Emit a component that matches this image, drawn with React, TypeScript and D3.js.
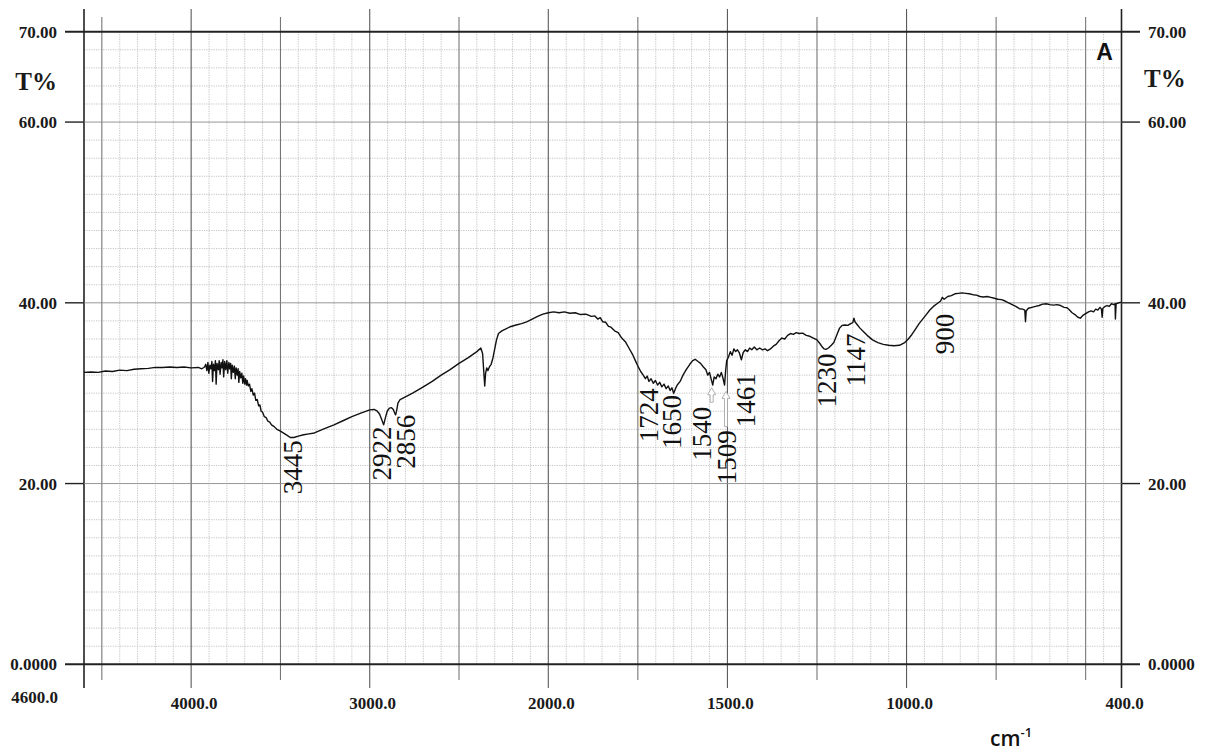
import React, { useEffect, useRef } from 'react';
import * as d3 from 'd3';

const W = 1211;
const H = 754;

// transmittance, 4600 - 2000 cm-1 (compressed half of the chart)
const bandHigh: [number, number][] = [
  [4600, 32.3], [4560, 32.35], [4520, 32.3], [4480, 32.45], [4440, 32.4], [4400, 32.55], [4360, 32.5],
  [4320, 32.65], [4280, 32.7], [4240, 32.75], [4200, 32.85], [4160, 32.85], [4120, 32.9], [4080, 32.85],
  [4040, 32.9], [4000, 32.8], [3960, 32.85], [3940, 32.7], [3925, 32.9],
  [3918, 33.2], [3912, 32.5], [3906, 33.4], [3901, 32.2], [3895, 33.1], [3889, 32.7], [3884, 33.5],
  [3880, 31.3], [3875, 33.2], [3869, 32.5], [3864, 33.6], [3860, 31.0], [3855, 33.3], [3848, 32.6],
  [3843, 33.6], [3838, 32.1], [3832, 33.4], [3827, 32.8], [3822, 33.7], [3818, 31.8], [3812, 33.5],
  [3806, 32.6], [3800, 33.6], [3795, 32.2], [3789, 33.4], [3784, 32.7], [3779, 33.3], [3775, 31.6],
  [3770, 33.1], [3764, 32.3], [3758, 33.0], [3753, 31.6], [3748, 32.8], [3742, 32.0], [3737, 32.7],
  [3733, 31.2], [3728, 32.4], [3722, 31.7], [3716, 32.2], [3711, 31.1], [3706, 31.9], [3700, 31.0],
  [3695, 31.6], [3690, 30.9], [3686, 31.4],
  [3680, 30.8], [3673, 31.0], [3666, 30.2], [3660, 30.5], [3652, 29.8], [3645, 30.0], [3638, 29.2],
  [3630, 29.3], [3622, 28.6], [3615, 28.7], [3608, 28.0], [3600, 27.9], [3590, 27.4], [3580, 27.3],
  [3570, 26.9], [3560, 26.8], [3550, 26.5], [3535, 26.3], [3520, 26.0], [3500, 25.8], [3480, 25.55],
  [3460, 25.3], [3445, 25.1], [3425, 25.1], [3400, 25.25], [3370, 25.4], [3340, 25.5], [3310, 25.6],
  [3280, 25.85], [3250, 26.1], [3200, 26.5], [3150, 26.95], [3100, 27.4], [3050, 27.8], [3000, 28.15],
  [2975, 28.2], [2960, 28.05], [2945, 27.7], [2933, 27.1], [2922, 26.5], [2912, 27.3], [2902, 28.0],
  [2890, 28.35], [2878, 28.4], [2868, 28.2], [2860, 27.8], [2855, 27.6], [2849, 28.1], [2842, 28.9],
  [2830, 29.3], [2800, 29.6], [2760, 30.0], [2700, 30.7], [2650, 31.3], [2600, 32.0], [2550, 32.6],
  [2500, 33.3], [2450, 33.9], [2400, 34.6], [2378, 35.0], [2368, 34.4], [2362, 32.6], [2356, 30.8],
  [2351, 32.2], [2345, 32.8], [2338, 32.5], [2330, 32.9], [2320, 33.2], [2310, 33.9], [2300, 34.9],
  [2290, 35.9], [2279, 36.6], [2260, 36.9], [2240, 37.1], [2214, 37.35], [2180, 37.55], [2150, 37.7],
  [2121, 37.9], [2090, 38.2], [2060, 38.5], [2030, 38.75], [2000, 38.9],
];

// transmittance, 2000 - 400 cm-1
const bandLow: [number, number][] = [
  [2000, 38.9], [1985, 39.0], [1970, 38.9], [1955, 39.0], [1940, 38.85], [1925, 38.9], [1910, 38.7],
  [1895, 38.75], [1880, 38.5], [1870, 38.55], [1862, 38.2], [1855, 38.35], [1848, 37.9], [1840, 37.85],
  [1832, 37.4], [1825, 37.3], [1815, 36.9], [1805, 36.7], [1795, 36.1], [1785, 35.7], [1775, 35.0],
  [1765, 34.3], [1757, 33.6], [1750, 33.0], [1742, 32.4], [1735, 32.0], [1729, 31.6], [1724, 31.9],
  [1719, 31.3], [1713, 31.6], [1707, 31.1], [1701, 31.4], [1695, 30.9], [1689, 31.2], [1683, 30.7],
  [1677, 31.0], [1671, 30.5], [1665, 30.8], [1660, 30.3], [1655, 30.6], [1650, 30.0], [1645, 30.5],
  [1640, 30.9], [1632, 31.3], [1624, 32.0], [1615, 32.6], [1605, 33.2], [1597, 33.6], [1590, 33.75],
  [1582, 33.5], [1575, 33.3], [1567, 32.9], [1560, 32.6], [1555, 32.0], [1550, 32.3], [1545, 31.5],
  [1541, 30.9], [1537, 31.8], [1532, 31.6], [1527, 32.1], [1522, 31.8], [1517, 32.3], [1512, 31.6],
  [1508, 30.9], [1505, 32.5], [1502, 33.6], [1497, 34.0], [1492, 34.6], [1487, 34.2], [1482, 34.9],
  [1477, 34.6], [1472, 34.8], [1467, 34.5], [1461, 33.7], [1456, 34.5], [1450, 34.8], [1444, 34.6],
  [1438, 35.0], [1432, 34.8], [1425, 35.1], [1418, 34.8], [1410, 35.0], [1402, 34.8], [1395, 34.9],
  [1388, 34.7], [1380, 34.9], [1372, 35.2], [1364, 35.4], [1356, 35.8], [1348, 36.1], [1340, 36.0],
  [1332, 36.4], [1324, 36.6], [1316, 36.5], [1308, 36.7], [1300, 36.6], [1290, 36.65], [1280, 36.4],
  [1270, 36.3], [1260, 36.1], [1250, 35.9], [1242, 35.5], [1235, 35.1], [1230, 34.9], [1225, 34.85],
  [1218, 35.0], [1210, 35.3], [1203, 35.6], [1195, 36.4], [1187, 37.2], [1180, 37.5], [1172, 37.55],
  [1164, 37.5], [1156, 37.7], [1150, 37.8], [1147, 38.3], [1144, 37.9], [1138, 37.6], [1130, 37.2],
  [1120, 36.8], [1110, 36.4], [1095, 35.9], [1080, 35.6], [1065, 35.4], [1050, 35.3], [1035, 35.25],
  [1020, 35.3], [1005, 35.6], [995, 36.0], [985, 36.5], [975, 37.1], [965, 37.7], [955, 38.2],
  [945, 38.7], [935, 39.2], [925, 39.6], [915, 39.9], [905, 40.2], [900, 40.6], [895, 40.4],
  [885, 40.7], [875, 40.8], [865, 41.0], [855, 41.05], [845, 41.1], [835, 41.05], [825, 41.0],
  [815, 40.9], [805, 40.85], [795, 40.7], [785, 40.65], [775, 40.7], [765, 40.6], [755, 40.5],
  [745, 40.4], [735, 40.35], [725, 40.2], [715, 40.0], [705, 39.8], [695, 39.6], [685, 39.35],
  [676, 39.3], [670, 39.2], [668, 37.9], [666, 39.1], [660, 39.4], [650, 39.5], [640, 39.6],
  [630, 39.7], [620, 39.85], [610, 39.9], [600, 39.8], [590, 39.75], [580, 39.8], [570, 39.7],
  [560, 39.5], [552, 39.45], [545, 39.2], [538, 38.9], [530, 38.7], [522, 38.4], [515, 38.3],
  [508, 38.6], [500, 38.8], [492, 39.0], [485, 39.1], [478, 39.0], [472, 39.3], [466, 39.2],
  [460, 39.5], [456, 39.3], [454, 38.4], [452, 39.4], [446, 39.6], [440, 39.7], [434, 39.6],
  [428, 39.9], [422, 39.8], [418, 39.9], [417, 38.2], [415, 39.9], [408, 40.0], [400, 40.05],
];

const xLabelTicks = [4000, 3000, 2000, 1500, 1000, 400];
const xHalfTicks = [4500, 3500, 2500, 1750, 1250, 750, 500];
const yTicks = [0, 20, 40, 60, 70];
const yTickLabels = ['0.0000', '20.00', '40.00', '60.00', '70.00'];

// peak annotations: text, [wavenumber, T% at the top of the text]
const peakLabels = ['3445', '2922', '2856', '1724', '1650', '1540', '1509', '1461', '1230', '1147', '900'];
const peakAt: [number, number][] = [
  [3430, 24.8], [2931, 26.3], [2799, 27.6], [1719, 30.55], [1655, 29.8], [1570, 28.5],
  [1500, 25.9], [1449, 32.2], [1223, 34.4], [1140, 36.6], [892, 38.8],
];
// little hollow arrows under 1540 / 1509: wavenumber, tip T%, tail T%
const arrowsAt: [number, number, number][] = [[1544, 30.6, 29.0], [1504, 30.2, 26.3]];

const serif = "'Liberation Serif', 'Times New Roman', serif";

const Spectrum = () => {
  const ref = useRef<HTMLDivElement>(null);

  useEffect(() => {
    if (!ref.current) return;
    d3.select(ref.current).selectAll('*').remove();

    const svg = d3.select(ref.current)
      .append('svg')
      .attr('width', W)
      .attr('height', H)
      .style('display', 'block')
      .style('background', '#fff');

    // Shimadzu style: 2000 - 400 is drawn at twice the scale of 4600 - 2000
    const x = d3.scaleLinear().domain([4600, 2000, 400]).range([84, 548.3, 1121.5]);
    const y = d3.scaleLinear().domain([0, 70]).range([664.3, 31.7]);
    const [x0, x1] = [x(4600), x(400)];
    const [yb, yt] = [y(0), y(70)];

    const grid = svg.append('g');
    const fine = d3.range(4600, 2000, -100).concat(d3.range(2000, 399, -50));
    const strong = new Set([4600, ...xLabelTicks, ...xHalfTicks]);
    grid.selectAll('line.vx')
      .data(fine.filter(v => !strong.has(v)))
      .join('line')
      .attr('x1', d => x(d)).attr('x2', d => x(d))
      .attr('y1', yt).attr('y2', yb)
      .attr('stroke', '#bdbdbd').attr('stroke-width', 0.9)
      .attr('stroke-dasharray', '1.2,1.2');
    grid.selectAll('line.hy')
      .data(d3.range(2, 70, 2).filter(v => v % 20 !== 0))
      .join('line')
      .attr('x1', x0).attr('x2', x1)
      .attr('y1', d => y(d)).attr('y2', d => y(d))
      .attr('stroke', '#bdbdbd')
      .attr('stroke-width', 0.9)
      .attr('stroke-dasharray', '1.2,1.2');

    // strong verticals, running out past the frame as ticks
    const ticks = svg.append('g');
    ticks.selectAll('line.major')
      .data(xLabelTicks.filter(v => v !== 400))
      .join('line')
      .attr('x1', d => x(d)).attr('x2', d => x(d))
      .attr('y1', 9).attr('y2', 688)
      .attr('stroke', '#5a5a5a').attr('stroke-width', 1.1);
    ticks.selectAll('line.half')
      .data(xHalfTicks)
      .join('line')
      .attr('x1', d => x(d)).attr('x2', d => x(d))
      .attr('y1', 17).attr('y2', 680)
      .attr('stroke', '#6a6a6a').attr('stroke-width', 1);

    // frame
    [x0, x1].forEach(v => {
      ticks.append('line')
        .attr('x1', v).attr('x2', v).attr('y1', 9).attr('y2', 688)
        .attr('stroke', '#222').attr('stroke-width', 1.6);
    });
    [yb, yt].forEach(v => {
      ticks.append('line')
        .attr('x1', 65).attr('x2', 1140).attr('y1', v).attr('y2', v)
        .attr('stroke', '#222').attr('stroke-width', 2);
    });
    const midY = yTicks.filter(v => v !== 0 && v !== 70);
    ticks.selectAll('line.ytick')
      .data(midY)
      .join('line')
      .attr('x1', 65).attr('x2', x0)
      .attr('y1', d => y(d)).attr('y2', d => y(d))
      .attr('stroke', '#222').attr('stroke-width', 1.4);
    ticks.selectAll('line.ytickR')
      .data(midY)
      .join('line')
      .attr('x1', x1).attr('x2', 1140)
      .attr('y1', d => y(d)).attr('y2', d => y(d))
      .attr('stroke', '#222').attr('stroke-width', 1.4);
    ticks.selectAll('line.inner')
      .data(midY)
      .join('line')
      .attr('x1', x0).attr('x2', x1)
      .attr('y1', d => y(d)).attr('y2', d => y(d))
      .attr('stroke', '#8a8a8a').attr('stroke-width', 0.9);

    // axis labels
    const labels = svg.append('g')
      .style('font-family', serif)
      .style('font-weight', 'bold')
      .style('font-size', '17px')
      .attr('fill', '#1a1a1a');
    labels.selectAll('text.yl')
      .data(yTicks)
      .join('text')
      .attr('x', 57).attr('y', d => y(d) + 6)
      .attr('text-anchor', 'end')
      .text((d, i) => yTickLabels[i]);
    labels.selectAll('text.yr')
      .data(yTicks)
      .join('text')
      .attr('x', 1148).attr('y', d => y(d) + 6)
      .text((d, i) => yTickLabels[i]);
    labels.append('text')
      .attr('x', 58).attr('y', 703)
      .attr('text-anchor', 'end')
      .text(d3.format('.1f')(4600));
    labels.selectAll('text.xl')
      .data(xLabelTicks)
      .join('text')
      .attr('x', d => x(d) + 3).attr('y', 709)
      .attr('text-anchor', 'middle')
      .text(d => d3.format('.1f')(d));
    labels.append('text')
      .attr('x', 57).attr('y', 90)
      .attr('text-anchor', 'end')
      .style('font-size', '25px')
      .text('T%');
    labels.append('text')
      .attr('x', 1144).attr('y', 87)
      .style('font-size', '25px')
      .text('T%');

    svg.append('text')
      .attr('x', 1104.5).attr('y', 60)
      .attr('text-anchor', 'middle')
      .style('font-family', "'Liberation Sans', Arial, sans-serif")
      .style('font-weight', 'bold')
      .style('font-size', '23px')
      .attr('fill', '#111')
      .text('A');

    const unit = svg.append('text')
      .attr('x', 990).attr('y', 746)
      .style('font-family', "'Open Sans', 'Liberation Sans', sans-serif")
      .style('font-weight', 600)
      .style('font-size', '21px')
      .attr('fill', '#111');
    unit.append('tspan').text('cm');
    unit.append('tspan').attr('dy', -9).style('font-size', '13px').text('-1');

    // spectrum
    const line = d3.line<[number, number]>()
      .x(d => x(d[0]))
      .y(d => y(d[1]));
    svg.append('path')
      .datum(bandHigh.concat(bandLow.slice(1)))
      .attr('d', line)
      .attr('fill', 'none')
      .attr('stroke', '#111')
      .attr('stroke-width', 1.4)
      .attr('stroke-linejoin', 'round');

    // hollow arrows
    svg.selectAll('path.arrow')
      .data(arrowsAt)
      .join('path')
      .attr('d', d => {
        const cx = x(d[0]);
        const ty = y(d[1]);
        const by = y(d[2]);
        return `M${cx},${ty}L${cx + 4},${ty + 7}L${cx + 1.5},${ty + 7}L${cx + 1.5},${by}` +
          `L${cx - 1.5},${by}L${cx - 1.5},${ty + 7}L${cx - 4},${ty + 7}Z`;
      })
      .attr('fill', '#fff')
      .attr('stroke', '#a8a8a8')
      .attr('stroke-width', 0.9);

    // peak numbers, read bottom to top
    svg.selectAll('text.peak')
      .data(peakAt)
      .join('text')
      .attr('transform', d => `translate(${x(d[0])},${y(d[1])}) rotate(-90)`)
      .attr('text-anchor', 'end')
      .attr('dominant-baseline', 'central')
      .style('font-family', serif)
      .style('font-size', '27px')
      .attr('fill', '#111')
      .text((d, i) => peakLabels[i]);
  }, []);

  return <div ref={ref} style={{ position: 'absolute', left: 0, top: 0, width: W, height: H }}></div>;
};

export default function App() {
  return <Spectrum />;
}
